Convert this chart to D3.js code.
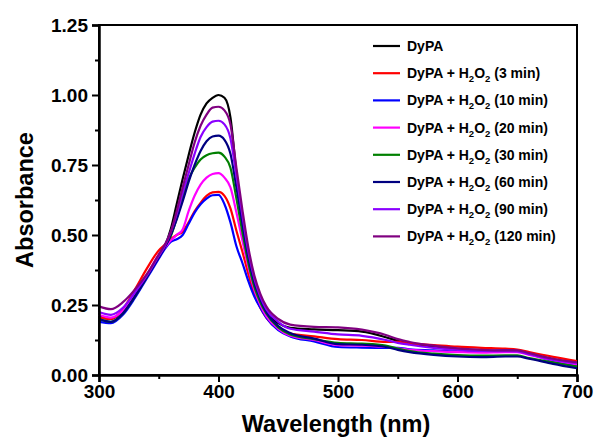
<!DOCTYPE html>
<html>
<head>
<meta charset="utf-8">
<script src="https://cdn.jsdelivr.net/npm/d3@7"></script>
<style>
  body { margin: 0; background: #fff; }
  svg { font-family: "Liberation Sans", Arial, sans-serif; font-weight: bold; }
</style>
</head>
<body>
<svg class="js-chart" width="595" height="440"></svg>
<script>
// wavelengths (nm) shared by every spectrum
var wavelength = [300, 310, 320, 330, 340, 350, 355, 360, 365, 370, 375, 380, 385, 390, 395, 400,
    405, 410, 415, 420, 425, 430, 435, 440, 450, 460, 480, 500, 520, 540, 550, 560, 580, 600,
    620, 640, 650, 660, 680, 700];

var dypa = [.21, .20, .23, .29, .355, .425, .46, .52, .61, .70, .785, .865, .93, .97, .99, 1.0,
    .99, .92, .72, .56, .42, .32, .265, .225, .185, .168, .163, .16, .155, .135, .122, .112, .1, .09,
    .086, .085, .085, .075, .056, .044];
var min3 = [.205, .20, .235, .305, .38, .445, .465, .485, .50, .512, .545, .585, .615, .64, .652, .654,
    .64, .595, .515, .44, .36, .29, .24, .205, .165, .148, .138, .128, .125, .118, .118, .113, .107, .101,
    .097, .094, .091, .082, .065, .05];
var min10 = [.19, .185, .215, .275, .345, .415, .45, .475, .485, .50, .54, .58, .61, .63, .642, .643,
    .61, .545, .46, .40, .335, .28, .24, .205, .16, .138, .12, .10, .098, .097, .097, .092, .088, .083,
    .086, .088, .085, .075, .05, .033];
var min20 = [.215, .205, .23, .285, .355, .43, .455, .48, .50, .52, .585, .64, .68, .705, .718, .721,
    .705, .67, .58, .48, .385, .305, .25, .21, .165, .14, .125, .107, .105, .1, .095, .09, .085, .082,
    .08, .082, .082, .072, .052, .038];
var min30 = [.20, .19, .22, .28, .35, .425, .46, .495, .56, .64, .70, .74, .77, .785, .792, .794,
    .78, .74, .63, .51, .40, .315, .26, .22, .17, .145, .128, .115, .112, .105, .094, .085, .076, .071,
    .069, .07, .07, .06, .045, .03];
var min60 = [.20, .19, .22, .28, .35, .42, .455, .50, .555, .62, .69, .75, .80, .835, .852, .855,
    .84, .79, .67, .54, .42, .33, .27, .225, .175, .15, .13, .11, .108, .1, .09, .082, .072, .066,
    .064, .066, .066, .058, .04, .024];
var min90 = [.225, .215, .24, .295, .355, .425, .46, .51, .575, .65, .72, .79, .85, .885, .905, .908,
    .895, .845, .71, .57, .44, .345, .28, .235, .19, .165, .155, .145, .14, .125, .115, .108, .097, .09,
    .086, .085, .084, .074, .054, .042];
var min120 = [.245, .235, .26, .305, .36, .43, .465, .51, .585, .67, .75, .83, .89, .93, .955, .958,
    .945, .895, .74, .59, .455, .355, .29, .245, .2, .18, .172, .17, .162, .143, .128, .118, .105, .095,
    .09, .088, .088, .078, .058, .045];

var seriesNames = ["DyPA", "3 min", "10 min", "20 min", "30 min", "60 min", "90 min", "120 min"];
var seriesColors = ["#000000", "#ff0000", "#0000ff", "#ff00ff", "#008000", "#000080", "#8a00ff", "#800080"];
var seriesValues = [dypa, min3, min10, min20, min30, min60, min90, min120];

var xTicks = [300, 400, 500, 600, 700];
var yTicks = [0, 0.25, 0.5, 0.75, 1.0, 1.25];

var margin = { top: 25, right: 18, bottom: 65, left: 99 };
var width = 595 - margin.left - margin.right,
    height = 440 - margin.top - margin.bottom;

var svg = d3.select(".js-chart");
var g = svg.append("g")
    .attr("transform", "translate(" + margin.left + "," + margin.top + ")");

var x = d3.scaleLinear().domain([300, 700]).range([0, width]);
var y = d3.scaleLinear().domain([0, 1.25]).range([height, 0]);

// frame
g.append("rect")
    .attr("width", width).attr("height", height)
    .attr("fill", "none").attr("stroke", "#000").attr("stroke-width", 2);

// spectra
var line = d3.line()
    .x(function (d) { return x(d[0]); })
    .y(function (d) { return y(d[1]); })
    .curve(d3.curveMonotoneX);

seriesValues.forEach(function (vals, i) {
    g.append("path")
        .datum(wavelength.map(function (w, j) { return [w, vals[j]]; }))
        .attr("fill", "none")
        .attr("stroke", seriesColors[i])
        .attr("stroke-width", 2.2)
        .attr("stroke-linejoin", "round")
        .attr("d", line);
});

// axes: major ticks labelled, minor ticks half way
function styleAxis(sel) {
    sel.select(".domain").attr("stroke-width", 2.5);
    sel.selectAll(".tick line").attr("stroke-width", 2);
    sel.selectAll("text").attr("font-size", 19).attr("font-weight", "bold").attr("fill", "#000")
        .attr("font-family", "Liberation Sans, Arial, sans-serif");
}

var xAxis = g.append("g")
    .attr("transform", "translate(0," + height + ")")
    .call(d3.axisBottom(x).tickValues(xTicks).tickSize(7).tickPadding(3).tickFormat(d3.format("d")));
styleAxis(xAxis);

g.append("g")
    .attr("transform", "translate(0," + height + ")")
    .call(d3.axisBottom(x).tickValues([350, 450, 550, 650]).tickSize(4).tickFormat(""))
    .call(function (s) { s.select(".domain").remove(); s.selectAll(".tick line").attr("stroke-width", 2); });

var yAxis = g.append("g")
    .call(d3.axisLeft(y).tickValues(yTicks).tickSize(7).tickPadding(4).tickFormat(d3.format(".2f")));
styleAxis(yAxis);

g.append("g")
    .call(d3.axisLeft(y).tickValues([0.125, 0.375, 0.625, 0.875, 1.125]).tickSize(4).tickFormat(""))
    .call(function (s) { s.select(".domain").remove(); s.selectAll(".tick line").attr("stroke-width", 2); });

// axis titles
svg.append("text")
    .attr("x", margin.left + width / 2 - 2)
    .attr("y", 432)
    .attr("text-anchor", "middle")
    .attr("font-size", 23.5)
    .text("Wavelength (nm)");

svg.append("text")
    .attr("transform", "translate(33," + (margin.top + height / 2) + ") rotate(-90)")
    .attr("text-anchor", "middle")
    .attr("font-size", 23.5)
    .text("Absorbance");

// legend
var legend = svg.append("g").attr("transform", "translate(373,46)");
seriesNames.forEach(function (name, i) {
    var row = legend.append("g").attr("transform", "translate(0," + (i * 27.2) + ")");
    row.append("line")
        .attr("x1", 0).attr("x2", 27)
        .attr("stroke", seriesColors[i]).attr("stroke-width", 2.2);
    var t = row.append("text")
        .attr("x", 34).attr("y", 5)
        .attr("font-size", 14);
    if (i === 0) {
        t.text(name);
    } else {
        t.append("tspan").text("DyPA + H");
        t.append("tspan").attr("font-size", 9.5).attr("dy", 4).text("2");
        t.append("tspan").attr("dy", -4).text("O");
        t.append("tspan").attr("font-size", 9.5).attr("dy", 4).text("2");
        t.append("tspan").attr("dy", -4).text(" (" + name + ")");
    }
});
</script>
</body>
</html>
